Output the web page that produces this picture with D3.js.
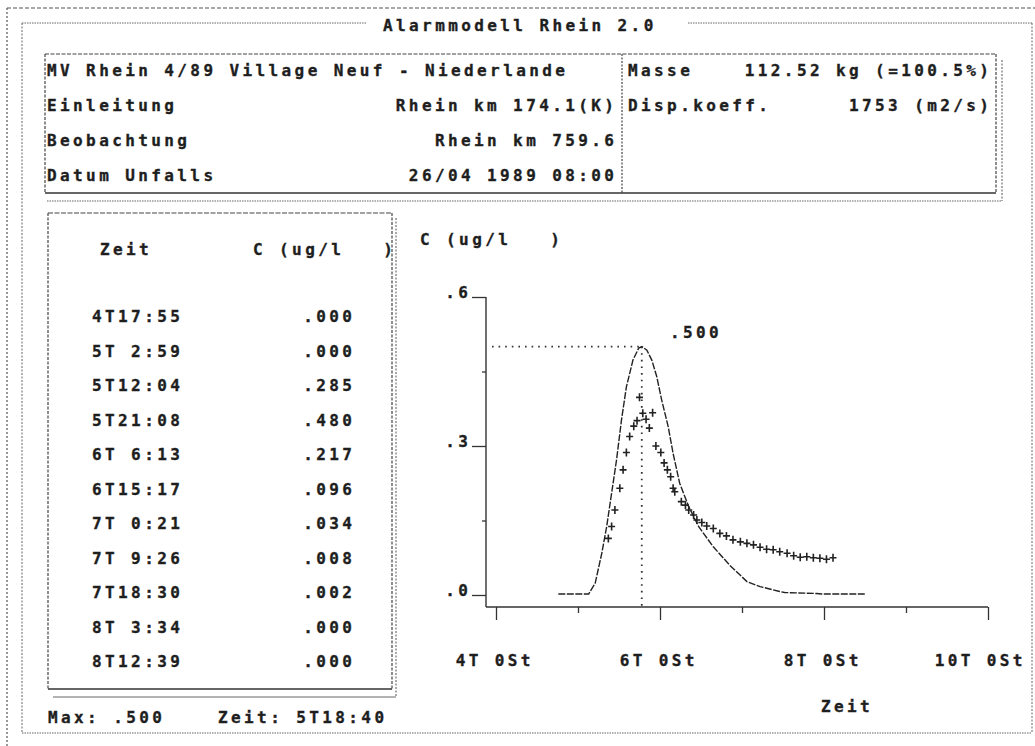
<!DOCTYPE html>
<html>
    <head>
        <script src="https://d3js.org/d3.v7.min.js"></script>
        <style type="text/css">
            html, body {
                margin: 0;
                padding: 0;
                background: #fff;
            }
            svg text {
                font-family: "DejaVu Sans Mono", "Liberation Mono", monospace;
                font-weight: bold;
                font-size: 16px;
                letter-spacing: 3.4px;
                fill: #1e1e1e;
                stroke: #1e1e1e;
                stroke-width: 0.35px;
                white-space: pre;
            }
        </style>
    </head>
    <body>
        <div id="chart"></div>
        <script>
            // header block
            var title = "Alarmmodell Rhein 2.0";
            var infoLabels = ["MV Rhein 4/89 Village Neuf - Niederlande", "Einleitung", "Beobachtung", "Datum Unfalls"];
            var infoValues = ["", "Rhein km 174.1(K)", "Rhein km 759.6", "26/04 1989 08:00"];
            var paramLabels = ["Masse", "Disp.koeff."];
            var paramValues = ["112.52 kg (=100.5%)", "1753 (m2/s)"];

            // table of model values
            var tableTimes = ["4T17:55", "5T 2:59", "5T12:04", "5T21:08", "6T 6:13", "6T15:17",
                              "7T 0:21", "7T 9:26", "7T18:30", "8T 3:34", "8T12:39"];
            var tableConc = [0.000, 0.000, 0.285, 0.480, 0.217, 0.096, 0.034, 0.008, 0.002, 0.000, 0.000];
            var maxConc = 0.500;
            var maxTimeLabel = "5T18:40";
            var maxTimeDay = 5 + 18 / 24 + 40 / 1440;

            // model curve (time in days, conc in ug/l)
            var modelDay = [4.76, 5.13, 5.21, 5.29, 5.35, 5.41, 5.47, 5.53, 5.59, 5.67, 5.74, 5.78,
                            5.84, 5.90, 5.96, 6.02, 6.10, 6.16, 6.24, 6.35, 6.47, 6.65, 6.85, 7.06,
                            7.22, 7.46, 7.52, 7.91, 7.97, 8.51];
            var modelConc = [0.002, 0.002, 0.024, 0.084, 0.138, 0.205, 0.272, 0.352, 0.419, 0.473, 0.497, 0.500,
                             0.493, 0.473, 0.440, 0.393, 0.339, 0.285, 0.225, 0.178, 0.138, 0.097, 0.060, 0.027,
                             0.017, 0.007, 0.005, 0.003, 0.002, 0.002];

            // measured values (crosses)
            var measDay = [5.37, 5.41, 5.45, 5.51, 5.55, 5.59, 5.63, 5.68, 5.72, 5.75, 5.79, 5.83,
                           5.87, 5.91, 5.95, 6.01, 6.05, 6.09, 6.13, 6.16, 6.18, 6.26, 6.31, 6.35,
                           6.41, 6.45, 6.51, 6.57, 6.65, 6.73, 6.81, 6.89, 6.98, 7.06, 7.14, 7.22,
                           7.30, 7.38, 7.46, 7.55, 7.63, 7.71, 7.79, 7.87, 7.95, 8.03, 8.11];
            var measConc = [0.114, 0.138, 0.171, 0.215, 0.252, 0.287, 0.319, 0.340, 0.351, 0.398, 0.366, 0.354,
                            0.336, 0.367, 0.300, 0.287, 0.266, 0.252, 0.238, 0.215, 0.208, 0.188, 0.181, 0.171,
                            0.161, 0.151, 0.146, 0.139, 0.134, 0.124, 0.119, 0.111, 0.107, 0.104, 0.101, 0.096,
                            0.092, 0.091, 0.087, 0.084, 0.079, 0.076, 0.077, 0.075, 0.074, 0.072, 0.075];

            var xTickDays = [4, 5, 6, 7, 8, 9, 10];
            var yTickVals = [0, 0.15, 0.3, 0.45, 0.6];

            var LS = 3.4; // letter spacing, trailing gap on end-anchored text
            var W = 1035, H = 746;

            var svg = d3.select("#chart").append("svg")
                .attr("width", W)
                .attr("height", H);

            function seg(x1, y1, x2, y2, dash, col, w) {
                svg.append("line")
                    .attr("x1", x1).attr("y1", y1).attr("x2", x2).attr("y2", y2)
                    .attr("stroke", col || "#444")
                    .attr("stroke-width", w || 1.2)
                    .attr("stroke-dasharray", dash);
            }
            function txt(s, x, y, anchor) {
                return svg.append("text")
                    .attr("x", anchor == "end" ? x + LS : x)
                    .attr("y", y)
                    .attr("text-anchor", anchor || "start")
                    .text(s);
            }

            // frames
            seg(7, 8, W, 8, "4,2", "#555");
            seg(7, 8, 7, H, "2,2", "#555");
            seg(22, 23, 367, 23, "1.5,1", "#666", 1);
            seg(688, 23, 1032, 23, "1.5,1", "#666", 1);
            seg(22, 23, 22, 733, "2,1.5", "#666", 1);
            seg(1032, 23, 1032, 733, "2,1.5", "#666", 1);
            seg(22, 733, 1032, 733, "1.5,1", "#666", 1);
            txt(title, 383, 31).attr("letter-spacing", "3.8px");

            // info box
            seg(45, 54, 996, 54, "4,1.5");
            seg(45, 54, 45, 193, "3,1.5");
            seg(996, 54, 996, 193, "3,1.5");
            seg(622, 54, 622, 193, "2,1.5");
            seg(45, 193, 996, 193, null, "#333", 1.3);
            seg(1002, 60, 1002, 201, "2,1.5", "#555", 1);
            seg(47, 201, 1002, 201, "1.5,1", "#666", 1);

            infoLabels.forEach(function(s, i) {
                var by = 76 + i * 35;
                txt(s, 47, by);
                if (infoValues[i]) txt(infoValues[i], 614, by, "end");
            });
            paramLabels.forEach(function(s, i) {
                var by = 76 + i * 35;
                txt(s, 628, by);
                txt(paramValues[i], 989, by, "end");
            });

            // table box
            seg(48, 213, 392, 213, "5,1.5");
            seg(48, 213, 48, 689, "3,1.5");
            seg(392, 213, 392, 689, "3,1.5");
            seg(48, 689, 392, 689, null, "#333", 1.3);
            seg(396, 218, 396, 697, "2,1.5", "#555", 1);
            seg(53, 697, 396, 697, null, "#666", 1);

            var fmt = function(v) { return d3.format(".3f")(v).replace(/^0/, ""); };
            txt("Zeit", 100, 255);
            txt("C (ug/l   )", 253, 255);
            tableTimes.forEach(function(t, i) {
                var by = 322 + i * 34.5;
                txt(t, 92, by);
                txt(fmt(tableConc[i]), 352, by, "end");
            });
            txt("Max: " + fmt(maxConc), 48, 723);
            txt("Zeit: " + maxTimeLabel, 218, 723);

            // chart
            var x = d3.scaleLinear().domain([4, 10]).range([496, 988]);
            var y = d3.scaleLinear().domain([0, 0.6]).range([595, 297]);
            var axisY = 607, axisX = 486;

            txt("C (ug/l   )", 420, 245);

            var gx = svg.append("g").attr("transform", "translate(0," + axisY + ")")
                .call(d3.axisBottom(x).tickValues(xTickDays).tickSizeOuter(0)
                    .tickFormat(function(d) { return d % 2 == 0 ? d + "T 0St" : ""; }));
            gx.select(".domain").remove();
            gx.selectAll(".tick line")
                .attr("stroke", "#333").attr("stroke-width", 1.3)
                .attr("y2", function(d) { return d % 2 == 0 ? 13 : 6; });
            gx.selectAll(".tick text")
                .attr("text-anchor", "end")
                .attr("x", 34 + LS).attr("y", 59).attr("dy", null)
                .attr("font-size", null).attr("font-family", null);
            seg(axisX, axisY, x(10), axisY, null, "#333", 1.4);

            var gy = svg.append("g").attr("transform", "translate(" + axisX + ",0)")
                .call(d3.axisLeft(y).tickValues(yTickVals).tickSizeOuter(0)
                    .tickFormat(function(d) { return Math.round(d * 10) % 3 == 0 ? "." + Math.round(d * 10) : ""; }));
            gy.select(".domain").remove();
            gy.selectAll(".tick line")
                .attr("stroke", "#333").attr("stroke-width", 1.3)
                .attr("x2", function(d) { return Math.round(d * 10) % 3 == 0 ? -14 : -4; });
            gy.selectAll(".tick text")
                .attr("x", -18 + LS).attr("dy", null)
                .attr("font-size", null).attr("font-family", null);
            seg(axisX, y(0.6), axisX, axisY, null, "#333", 1.4);

            // peak guide lines
            seg(axisX + 6, y(maxConc), x(maxTimeDay), y(maxConc), "1.6,5", "#333", 1.8);
            seg(x(maxTimeDay), y(maxConc), x(maxTimeDay), axisY, "1.6,5", "#333", 1.8);
            txt(fmt(maxConc), 670, 338);

            // model curve
            var model = modelDay.map(function(d, i) { return [d, modelConc[i]]; });
            svg.append("path")
                .datum(model)
                .attr("fill", "none")
                .attr("stroke", "#222")
                .attr("stroke-width", 1.4)
                .attr("stroke-dasharray", "7,1.5")
                .attr("d", d3.line().x(function(d) { return x(d[0]); }).y(function(d) { return y(d[1]); }));

            // measured crosses
            svg.selectAll(".meas")
                .data(measDay.map(function(d, i) { return [d, measConc[i]]; }))
                .enter().append("path")
                .attr("class", "meas")
                .attr("transform", function(d) { return "translate(" + x(d[0]) + "," + y(d[1]) + ")"; })
                .attr("d", "M-3.5,0H3.5M0,-4V4")
                .attr("stroke", "#222")
                .attr("stroke-width", 1.6)
                .attr("fill", "none");

            txt("Zeit", 821, 712);
        </script>
    </body>
</html>
